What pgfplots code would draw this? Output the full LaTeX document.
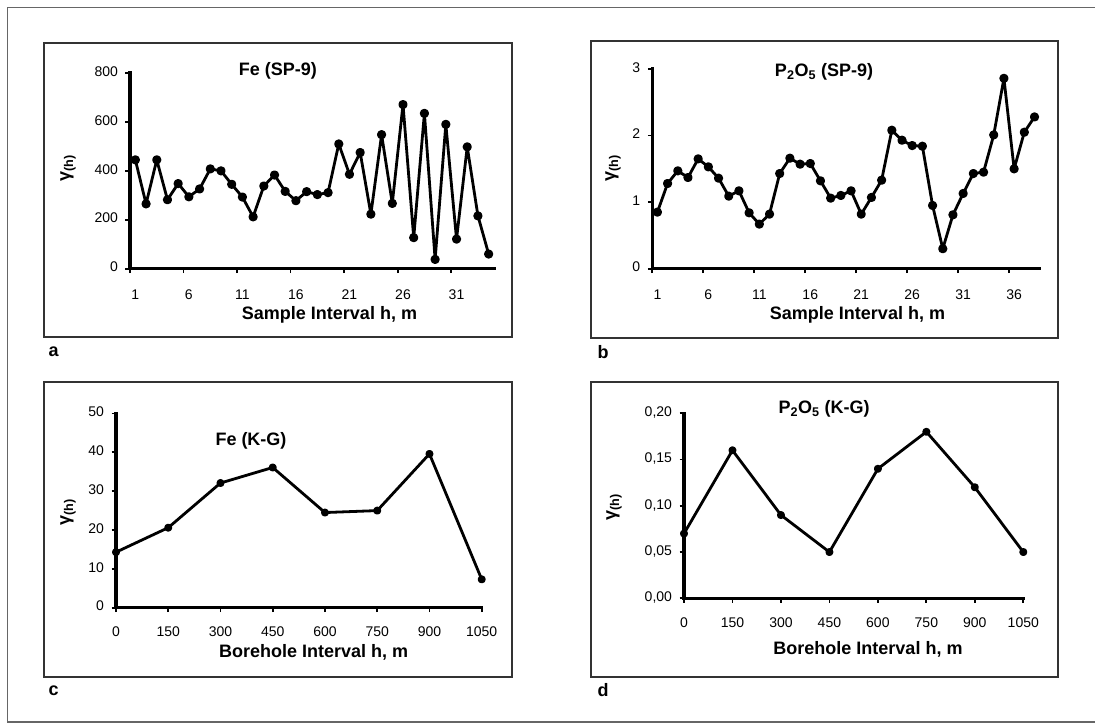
\documentclass[border=0pt]{standalone}
\usepackage{pgfplots}
\pgfplotsset{compat=1.18}
\usepackage{fontspec}
\setmainfont{Liberation Sans}

\tikzset{vaxes/.style={line width=3.4pt, draw=black, line cap=rect}}
\pgfplotsset{
  vario/.style={
    scale only axis,
    anchor=south west,
    enlargelimits=false,
    clip=false,
    axis x line*=bottom,
    axis y line*=left,
    axis line style={draw=none},
    tick align=outside,
    major tick length=4.5pt,
    tick style={line width=1.8pt, black},
    tick label style={font=\fontsize{14}{16}\selectfont},
    typeset ticklabels with strut,
    yticklabel style={xshift=-4pt},
    /pgf/number format/assume math mode=true,
    /pgf/number format/1000 sep={},
  },
  vline/.style={black, line width=2.8pt, line join=round, mark=*, mark size=3.2pt, mark options={solid, fill=black}},
}

\newcommand{\ttl}{\fontsize{18}{20}\selectfont\bfseries}
\newcommand{\gam}{\fontsize{18}{20}\selectfont\bfseries γ\textsubscript{(h)}}

\begin{document}
\begin{tikzpicture}
\useasboundingbox (0pt,0pt) rectangle (1095pt,724pt);
% outer frame
\draw[line width=1.8pt, black!60] (1096pt,716.5pt) -- (7.5pt,716.5pt) -- (7.5pt,2pt) -- (1096pt,2pt);
% panel frames
\draw[line width=1.4pt, black!80] (44pt,681pt) rectangle (512pt,387pt);
\draw[line width=1.4pt, black!80] (591pt,683pt) rectangle (1058pt,386pt);
\draw[line width=1.4pt, black!80] (44pt,342pt) rectangle (512pt,47pt);
\draw[line width=1.4pt, black!80] (591pt,342pt) rectangle (1058pt,47pt);

% a
\begin{axis}[vario, name=pa, at={(130pt,455.3pt)}, width=364pt, height=195.7pt,
  xmin=0.5, xmax=34.5, ymin=0, ymax=800,
  ytick={0,200,...,800},
  xtick={0.5,5.5,...,30.5}, xticklabels={},
  xticklabel style={yshift=-16pt},
  extra x ticks={1,6,...,31}, extra x tick style={major tick length=0pt}]
\addplot[vline] coordinates {
(1,445) (2,265) (3,445) (4,282) (5,348) (6,294) (7,326) (8,408) (9,400) (10,345)
(11,293) (12,212) (13,338) (14,383) (15,316) (16,278) (17,315) (18,303) (19,311) (20,510)
(21,386) (22,475) (23,223) (24,548) (25,267) (26,671) (27,127) (28,635) (29,38) (30,590)
(31,121) (32,498) (33,216) (34,60)
};
\end{axis}

% b
\begin{axis}[vario, name=pb, at={(652.3pt,455.3pt)}, width=387.3pt, height=199.7pt,
  xmin=0.5, xmax=38.5, ymin=0, ymax=3,
  ytick={0,1,2,3},
  xtick={0.5,5.5,...,35.5}, xticklabels={},
  xticklabel style={yshift=-16pt},
  extra x ticks={1,6,...,36}, extra x tick style={major tick length=0pt}]
\addplot[vline] coordinates {
(1,0.85) (2,1.28) (3,1.47) (4,1.37) (5,1.65) (6,1.53) (7,1.36) (8,1.09) (9,1.17) (10,0.84)
(11,0.67) (12,0.82) (13,1.43) (14,1.66) (15,1.57) (16,1.58) (17,1.32) (18,1.06) (19,1.10) (20,1.17)
(21,0.82) (22,1.07) (23,1.33) (24,2.08) (25,1.93) (26,1.85) (27,1.84) (28,0.95) (29,0.30) (30,0.81)
(31,1.13) (32,1.43) (33,1.45) (34,2.01) (35,2.86) (36,1.50) (37,2.05) (38,2.28)
};
\end{axis}

% c
\begin{axis}[vario, name=pc, at={(116pt,116.3pt)}, width=365.7pt, height=194.2pt,
  xmin=0, xmax=1050, ymin=0, ymax=50,
  ytick={0,10,...,50}, xtick={0,150,...,1050},
  xticklabel style={yshift=-10pt}]
\addplot[vline, mark size=2.6pt] coordinates {
(0,14.3) (150,20.6) (300,32.1) (450,36.1) (600,24.5) (750,25.0) (900,39.6) (1050,7.3)
};
\end{axis}

% d
\begin{axis}[vario, name=pd, at={(684pt,125.7pt)}, width=339.3pt, height=185pt,
  xmin=0, xmax=1050, ymin=0, ymax=0.2,
  ytick={0,0.05,...,0.2}, xtick={0,150,...,1050},
  xticklabel style={yshift=-10pt},
  yticklabel style={/pgf/number format/.cd, fixed, fixed zerofill, precision=2, use comma}]
\addplot[vline, mark size=2.6pt] coordinates {
(0,0.07) (150,0.16) (300,0.09) (450,0.05) (600,0.14) (750,0.18) (900,0.12) (1050,0.05)
};
\end{axis}

% axis lines
\foreach \p in {pa,pb,pc,pd}
  \draw[vaxes] (\p.north west) -- (\p.south west) -- (\p.south east);

% titles
\node[font=\ttl] at (278pt,653pt) {Fe (SP-9)};
\node[font=\ttl] at (824pt,652pt) {P\textsubscript{2}O\textsubscript{5} (SP-9)};
\node[font=\ttl] at (251pt,283pt) {Fe (K-G)};
\node[font=\ttl] at (824pt,315pt) {P\textsubscript{2}O\textsubscript{5} (K-G)};
% x labels
\node[font=\ttl] at (329.5pt,409pt) {Sample Interval h, m};
\node[font=\ttl] at (857.5pt,409pt) {Sample Interval h, m};
\node[font=\ttl] at (313.7pt,71.7pt) {Borehole Interval h, m};
\node[font=\ttl] at (868pt,74.7pt) {Borehole Interval h, m};
% y labels
\node[rotate=90] at (68pt,556pt) {\gam};
\node[rotate=90] at (613pt,556pt) {\gam};
\node[rotate=90] at (68pt,212pt) {\gam};
\node[rotate=90] at (614pt,217pt) {\gam};
% panel letters
\node[font=\ttl, anchor=west] at (45pt,372pt) {a};
\node[font=\ttl, anchor=west] at (594pt,372pt) {b};
\node[font=\ttl, anchor=west] at (45pt,33pt) {c};
\node[font=\ttl, anchor=west] at (594pt,34pt) {d};
\end{tikzpicture}
\end{document}
